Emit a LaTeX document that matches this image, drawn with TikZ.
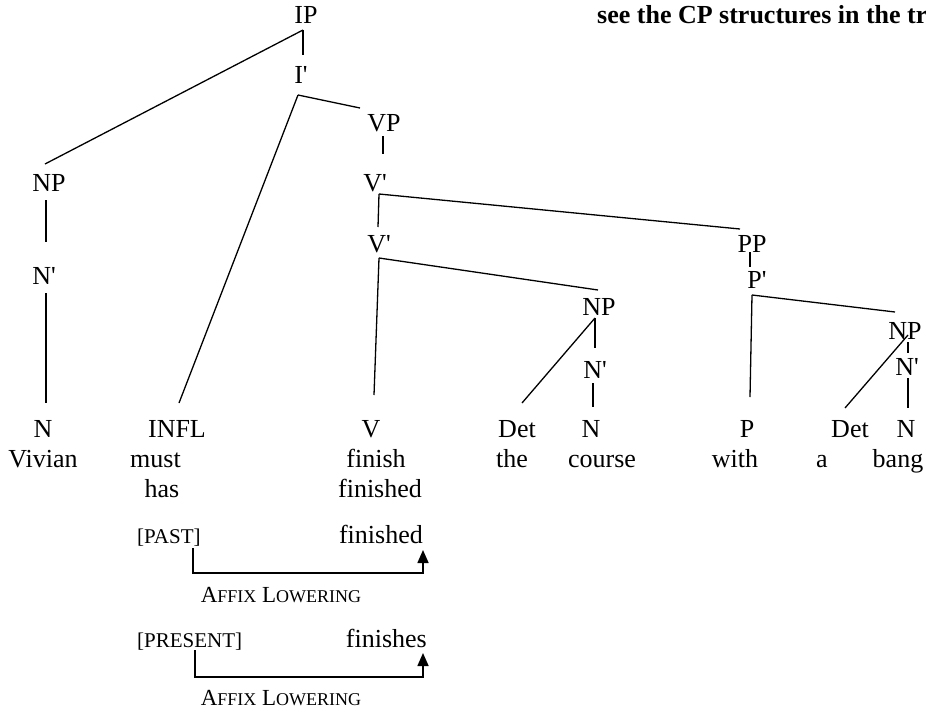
\documentclass[tikz,border=0pt]{standalone}
\usepackage{fontspec}
\setmainfont{Liberation Serif}[Ligatures=TeXOff]
\usetikzlibrary{arrows.meta}
\begin{document}
\begin{tikzpicture}[x=1pt,y=-1pt,
  every node/.style={font=\fontsize{26}{30}\selectfont, inner sep=0pt, anchor=base},
  br/.style={line width=1.3pt},
  arr/.style={line width=1.6pt, -{Triangle[length=13pt,width=11pt]}},
  small/.style={font=\fontsize{21}{24}\selectfont},
  sc/.style={font=\fontsize{23}{26}\selectfont}]
\useasboundingbox (0,0) rectangle (926,715);
% title
\node[anchor=base west, font=\fontsize{26}{30}\selectfont\bfseries] (title) at (597,23) {see the CP structures in the tr};
% phrase labels
\node (IP) at (306,23) {IP};
\node (I1) at (301,83) {I'};
\node (VP) at (384,131) {VP};
\node (NP1) at (49,191) {NP};
\node (V1) at (375,191) {V'};
\node (V2) at (379,252) {V'};
\node (PP) at (752,252) {PP};
\node (N1) at (44,284) {N'};
\node (P1) at (757,288) {P'};
\node (NPa) at (599,315) {NP};
\node (NPb) at (905,339) {NP};
\node (Na) at (595,378) {N'};
\node (Nb) at (907,375) {N'};
% word classes
\node (N) at (43,437) {N};
\node (INFL) at (177,437) {INFL};
\node (V) at (371,437) {V};
\node (Det1) at (517,437) {Det};
\node (N2) at (591,437) {N};
\node (P) at (747,437) {P};
\node (Det2) at (850,437) {Det};
\node (N3) at (906,437) {N};
% words
\node (w1) at (43,467) {Vivian};
\node[anchor=base west] (w2) at (130,467) {must};
\node (w3) at (376,467) {finish};
\node (w4) at (512,467) {the};
\node (w5) at (602,467) {course};
\node (w6) at (735,467) {with};
\node (w7) at (822,467) {a};
\node (w8) at (898,467) {bang};
\node (w9) at (162,497) {has};
\node (w10) at (380,497) {finished};
% affix lowering
\node[anchor=base west, small] (past) at (137,543) {[PAST]};
\node[anchor=base east] (fin1) at (423,543) {finished};
\node[sc] (al1) at (281,602) {A{\fontsize{18}{20}\selectfont FFIX} L{\fontsize{18}{20}\selectfont OWERING}};
\node[anchor=base west, small] (pres) at (137,647) {[PRESENT]};
\node[anchor=base east] (fin2) at (427,647) {finishes};
\node[sc] (al2) at (281,705) {A{\fontsize{18}{20}\selectfont FFIX} L{\fontsize{18}{20}\selectfont OWERING}};
% connector end points
\coordinate (ipb) at (303,30);
\coordinate (i1t) at (303,55);
\coordinate (np1t) at (45,164);
\coordinate (i1b) at (298,95);
\coordinate (vpt) at (360,108);
\coordinate (inflt) at (179,403);
\coordinate (vpb) at (383,136);
\coordinate (v1t) at (383,154);
\coordinate (v1b) at (379,194);
\coordinate (ppt) at (740,229);
\coordinate (v2t) at (378,227);
\coordinate (np1b) at (46,200);
\coordinate (n1t) at (46,242);
\coordinate (n1b) at (46,293);
\coordinate (nt) at (46,403);
\coordinate (v2b) at (379,258);
\coordinate (npat) at (598,290);
\coordinate (vt) at (374,395);
\coordinate (ppb) at (750,252);
\coordinate (p1t) at (750,267);
\coordinate (p1b) at (752,295);
\coordinate (npbt) at (895,312);
\coordinate (pt) at (750,397);
\coordinate (npab) at (595,318);
\coordinate (det1t) at (522,403);
\coordinate (nat) at (595,348);
\coordinate (nab) at (593,383);
\coordinate (n2t) at (593,407);
\coordinate (npbb) at (908,335);
\coordinate (det2t) at (845,408);
\coordinate (npbb2) at (908,342);
\coordinate (nbt) at (908,353);
\coordinate (nbb) at (908,378);
\coordinate (n3t) at (908,408);
% tree branches
\draw[br] (ipb) -- (i1t);
\draw[br] (ipb) -- (np1t);
\draw[br] (i1b) -- (vpt);
\draw[br] (i1b) -- (inflt);
\draw[br] (vpb) -- (v1t);
\draw[br] (v1b) -- (ppt);
\draw[br] (v1b) -- (v2t);
\draw[br] (np1b) -- (n1t);
\draw[br] (n1b) -- (nt);
\draw[br] (v2b) -- (npat);
\draw[br] (v2b) -- (vt);
\draw[br] (ppb) -- (p1t);
\draw[br] (p1b) -- (npbt);
\draw[br] (p1b) -- (pt);
\draw[br] (npab) -- (det1t);
\draw[br] (npab) -- (nat);
\draw[br] (nab) -- (n2t);
\draw[br] (npbb) -- (det2t);
\draw[br] (npbb2) -- (nbt);
\draw[br] (nbb) -- (n3t);
% lowering arrows
\coordinate (pa1) at (193,548);
\coordinate (pa2) at (193,573);
\coordinate (pa3) at (423,573);
\coordinate (pa4) at (423,550);
\draw[arr] (pa1) -- (pa2) -- (pa3) -- (pa4);
\coordinate (pb1) at (195,650);
\coordinate (pb2) at (195,677);
\coordinate (pb3) at (423,677);
\coordinate (pb4) at (423,653);
\draw[arr] (pb1) -- (pb2) -- (pb3) -- (pb4);
\end{tikzpicture}
\end{document}
